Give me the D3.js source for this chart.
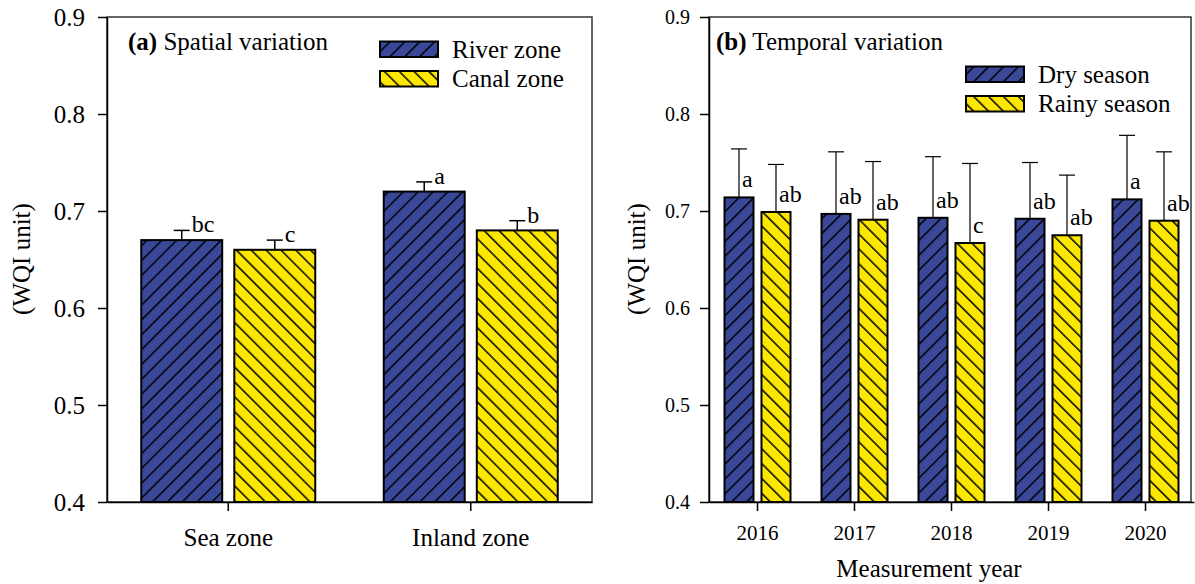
<!DOCTYPE html>
<html>
<head>
<meta charset="utf-8">
<script src="https://cdn.jsdelivr.net/npm/d3@7"></script>
<style>
  body { margin: 0; background: #fff; }
  text { font-family: "Liberation Serif", "Times New Roman", serif; fill: #000; }
</style>
</head>
<body>
<div id="chart"></div>
<script>
// ---- data ----
const yTicks = [0.4, 0.5, 0.6, 0.7, 0.8, 0.9];

// (a) spatial
const zones = ['Sea zone', 'Inland zone'];
const zoneSeries = ['River zone', 'Canal zone'];
const riverMean = [0.67, 0.72];
const riverErr = [0.01, 0.01];
const riverLetter = ['bc', 'a'];
const canalMean = [0.66, 0.68];
const canalErr = [0.01, 0.01];
const canalLetter = ['c', 'b'];

// (b) temporal
const years = ['2016', '2017', '2018', '2019', '2020'];
const seasonSeries = ['Dry season', 'Rainy season'];
const dryMean = [0.714, 0.697, 0.693, 0.692, 0.712];
const dryErr = [0.050, 0.064, 0.063, 0.058, 0.066];
const dryLetter = ['a', 'ab', 'ab', 'ab', 'a'];
const rainyMean = [0.699, 0.691, 0.667, 0.675, 0.690];
const rainyErr = [0.049, 0.060, 0.082, 0.062, 0.071];
const rainyLetter = ['ab', 'ab', 'c', 'ab', 'ab'];

const blue = '#3a4899';
const yellow = '#fce700';

const svg = d3.select('#chart')
    .append('svg')
    .attr('width', 1195)
    .attr('height', 584)
;

// hatch patterns: "/" on blue, "\" on yellow
let defs = svg.append('defs');
[['hatchBlue', blue, 45], ['hatchYellow', yellow, -45]].forEach(p => {
    let pat = defs.append('pattern')
        .attr('id', p[0])
        .attr('patternUnits', 'userSpaceOnUse')
        .attr('width', 10.5)
        .attr('height', 10.5)
        .attr('patternTransform', `rotate(${p[2]})`)
    ;
    pat.append('rect')
        .attr('width', 10.5)
        .attr('height', 10.5)
        .attr('fill', p[1])
    ;
    pat.append('line')
        .attr('x1', 0).attr('y1', 0)
        .attr('x2', 0).attr('y2', 10.5)
        .attr('stroke', '#000')
        .attr('stroke-width', 3)
    ;
});
const fills = ['url(#hatchBlue)', 'url(#hatchYellow)'];

/**
 * Draws one grouped bar panel with upward error bars and letter labels
 */
function drawPanel(o) {
    let y = d3.scaleLinear()
        .domain([0.4, 0.9])
        .range([502, 17])
    ;
    let x0 = d3.scaleBand()
        .domain(o.cats)
        .range([o.left, o.right])
    ;
    let x1 = d3.scaleBand()
        .domain(o.series)
        .range([-o.groupWidth / 2, o.groupWidth / 2])
        .paddingInner(o.innerPad)
    ;
    let g = svg.append('g');

    // frame
    g.append('rect')
        .attr('x', o.left)
        .attr('y', 17)
        .attr('width', o.boxRight - o.left)
        .attr('height', 485)
        .attr('fill', 'none')
        .attr('stroke', '#333')
        .attr('stroke-width', 1.5)
    ;

    // rows: one per bar
    let rows = [];
    o.cats.forEach((c, i) => {
        o.series.forEach((s, j) => {
            rows.push({cat: c, s: s, j: j, mean: o.means[j][i], err: o.errs[j][i], letter: o.letters[j][i]});
        });
    });

    g.selectAll('rect.bar')
        .data(rows)
        .enter()
        .append('rect')
        .attr('class', 'bar')
        .attr('x', d => x0(d.cat) + x0.bandwidth() / 2 + x1(d.s))
        .attr('y', d => y(d.mean))
        .attr('width', x1.bandwidth())
        .attr('height', d => y(0.4) - y(d.mean))
        .attr('fill', d => fills[d.j])
        .attr('stroke', '#000')
        .attr('stroke-width', 2)
    ;

    let cx = d => x0(d.cat) + x0.bandwidth() / 2 + x1(d.s) + x1.bandwidth() / 2;
    g.selectAll('line.err')
        .data(rows)
        .enter()
        .append('line')
        .attr('x1', cx).attr('x2', cx)
        .attr('y1', d => y(d.mean))
        .attr('y2', d => y(d.mean + d.err))
        .attr('stroke', '#000')
        .attr('stroke-width', o.errWidth)
    ;
    g.selectAll('line.cap')
        .data(rows)
        .enter()
        .append('line')
        .attr('x1', d => cx(d) - 8).attr('x2', d => cx(d) + 8)
        .attr('y1', d => y(d.mean + d.err))
        .attr('y2', d => y(d.mean + d.err))
        .attr('stroke', '#000')
        .attr('stroke-width', o.errWidth)
    ;
    g.selectAll('text.letter')
        .data(rows)
        .enter()
        .append('text')
        .text(d => d.letter)
        .style('font-size', '24px')
        .attr('x', d => cx(d) + o.letterDx)
        .attr('y', d => o.letterAtCap ? y(d.mean + d.err) + 2 : y(d.mean) - 10)
    ;

    // axes
    let yAxis = g.append('g')
        .attr('transform', `translate(${o.left},0)`)
        .call(d3.axisLeft(y).tickValues(yTicks).tickFormat(d3.format('.1f'))
            .tickSize(9).tickSizeOuter(0).tickPadding(o.yPad))
    ;
    yAxis.selectAll('text').style('font-size', o.yFont + 'px');
    let xAxis = g.append('g')
        .attr('transform', 'translate(0,502)')
        .call(d3.axisBottom(x0).tickSize(9).tickSizeOuter(0).tickPadding(o.xPad))
    ;
    xAxis.selectAll('text').style('font-size', o.xFont + 'px');
    [yAxis, xAxis].forEach(a => {
        a.selectAll('path, line').attr('stroke', '#000').attr('stroke-width', 1.5);
        a.selectAll('text').style('font-family', '"Liberation Serif", serif').attr('fill', '#000');
    });

    // y title
    g.append('text')
        .text('(WQI unit)')
        .style('font-size', '25px')
        .attr('text-anchor', 'middle')
        .attr('transform', `translate(${o.yTitleX}, 259), rotate(-90)`)
    ;

    // panel title
    let title = g.append('text')
        .attr('x', o.titleX)
        .attr('y', 50)
        .style('font-size', '25px')
    ;
    title.append('tspan').style('font-weight', 'bold').text(o.tag);
    title.append('tspan').text(' ' + o.title);

    // legend
    o.series.forEach((s, j) => {
        g.append('rect')
            .attr('x', o.legX)
            .attr('y', o.legY + j * o.legStep)
            .attr('width', 58)
            .attr('height', 15.5)
            .attr('fill', fills[j])
            .attr('stroke', '#000')
            .attr('stroke-width', 2)
        ;
        g.append('text')
            .text(s)
            .style('font-size', '25px')
            .attr('x', o.legX + 72)
            .attr('y', o.legY + j * o.legStep + 16)
        ;
    });
}

drawPanel({
    cats: zones, series: zoneSeries,
    means: [riverMean, canalMean], errs: [riverErr, canalErr], letters: [riverLetter, canalLetter],
    left: 107, right: 592, boxRight: 592,
    groupWidth: 174, innerPad: 0.13,
    errWidth: 1.5, letterDx: 10, letterAtCap: true,
    yFont: 25, yPad: 13, xFont: 25, xPad: 17,
    yTitleX: 30, titleX: 128, tag: '(a)', title: 'Spatial variation',
    legX: 380, legY: 41.5, legStep: 29.5
});

drawPanel({
    cats: years, series: seasonSeries,
    means: [dryMean, rainyMean], errs: [dryErr, rainyErr], letters: [dryLetter, rainyLetter],
    left: 709, right: 1194, boxRight: 1191,
    groupWidth: 66, innerPad: 0.216,
    errWidth: 1.2, letterDx: 3, letterAtCap: false,
    yFont: 20, yPad: 10, xFont: 21, xPad: 14,
    yTitleX: 645, titleX: 716, tag: '(b)', title: 'Temporal variation',
    legX: 966, legY: 66.5, legStep: 29.5
});

// x title for panel (b)
svg.append('text')
    .text('Measurement year')
    .style('font-size', '25px')
    .attr('text-anchor', 'middle')
    .attr('x', 929)
    .attr('y', 577)
;
</script>
</body>
</html>
